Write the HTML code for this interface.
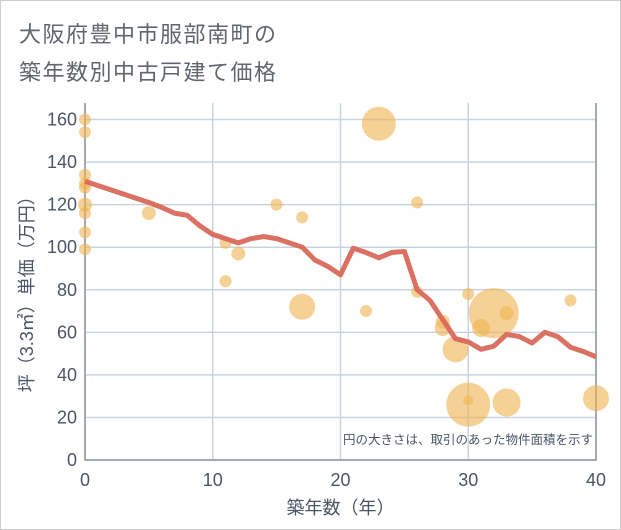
<!DOCTYPE html>
<html><head><meta charset="utf-8"><style>
body{margin:0;background:#fff;}
#wrap{position:relative;width:619px;height:528px;border:1px solid #ccc;background:#fff;font-family:"Liberation Sans","Noto Sans CJK JP",sans-serif;}
.title{position:absolute;left:18px;font-size:22px;color:#5f6670;letter-spacing:1.5px;}
</style></head><body>
<div id="wrap">
<div class="title" style="top:16px">大阪府豊中市服部南町の</div>
<div class="title" style="top:54px">築年数別中古戸建て価格</div>
<svg id="chart" width="621" height="530" style="position:absolute;left:-1px;top:-1px"></svg>
</div>
<script>
const lineYears=[0,1,2,3,4,5,6,7,8,9,10,11,12,13,14,15,16,17,18,19,20,21,22,23,24,25,26,27,28,29,30,31,32,33,34,35,36,37,38,39,40];
const lineValues=[131,129,127,125,123,121,118.7,116,115,110,106,104,102,104,105,104,102,100,94,91,87,99.5,97.5,95,97.5,98,80,75,66,57,55.5,52,53.5,59,58,55,60,58,53,51,48.5];
const bubbleYears=[0,0,0,0,0,0,0,0,0,5,11,11,12,15,17,17,22,23,26,26,28,28,29,30,30,30,31,32,33,33,38,40];
const bubbleValues=[160,154,134,130,128,120,116,107,99,116,102,84,97,120,114,72,70,158,121,79,65,62,52,78,26,28,62,69,27,69,75,29];
const bubbleSizes=[6,6,6,6,6,7,6,6,6,7,6,6,7,6,6,13,6,17,6,6,7,8,13,6,22,5,9,25,14,7,6,13];
const xTicks=[0,10,20,30,40];
const yTicks=[0,20,40,60,80,100,120,140,160];
const NS='http://www.w3.org/2000/svg';
const svg=document.getElementById('chart');
const L=85,R=596,T=103,B=460;
const xs=v=>L+(R-L)*v/40;
const ys=v=>B-(B-119.5)*v/160;
function mk(tag,attrs){const e=document.createElementNS(NS,tag);for(const k in attrs)e.setAttribute(k,attrs[k]);svg.appendChild(e);return e;}
yTicks.forEach(t=>{
 const g=mk('line',{x1:L,x2:R,y1:ys(t),y2:ys(t),stroke:'#c8d4e2','stroke-width':1.5});
 
 
 const tx=mk('text',{x:L-8,y:ys(t)+6,'text-anchor':'end','font-size':18,fill:'#4a5566'});
 tx.textContent=t;
 
 
});
xTicks.forEach(t=>{
 const g=mk('line',{x1:xs(t),x2:xs(t),y1:T,y2:B,stroke:'#c8d4e2','stroke-width':1.5});
 
 
 const tx=mk('text',{x:xs(t),y:B+26,'text-anchor':'middle','font-size':18,fill:'#4a5566'});
 tx.textContent=t;
 
 
});
const ax=mk('path',{d:`M${L},${T}V${B}H${R}V${T}`,fill:'none',stroke:'#8a96a6','stroke-width':1.5});


bubbleYears.forEach((yr,i)=>{
 const c=mk('circle',{cx:xs(yr),cy:ys(bubbleValues[i]),r:bubbleSizes[i],fill:'#f0b350','fill-opacity':0.6});
 
 
});
const pl=mk('polyline',{points:lineYears.map((y,i)=>xs(y)+','+ys(lineValues[i])).join(' '),fill:'none',stroke:'#d9695a','stroke-width':5,'stroke-linejoin':'round','stroke-opacity':0.95});


const note=mk('text',{x:593,y:444,'text-anchor':'end','font-size':12.5,fill:'#4a5566'});
note.textContent='円の大きさは、取引のあった物件面積を示す';


const xt=mk('text',{x:xs(20),y:514,'text-anchor':'middle','font-size':18,fill:'#4a5566'});
xt.textContent='築年数（年）';


const yt=mk('text',{x:0,y:0,'text-anchor':'middle','font-size':18,fill:'#4a5566',transform:`translate(33,${ys(80)}) rotate(-90)`});
yt.textContent='坪（3.3㎡）単価（万円）';


</script>
</body></html>
